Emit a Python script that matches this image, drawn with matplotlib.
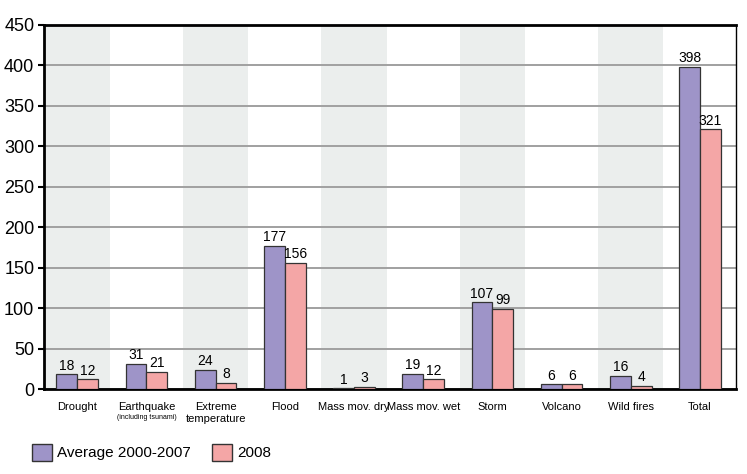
import matplotlib
matplotlib.use("Agg")
import matplotlib.pyplot as plt
from matplotlib.patches import Patch
from matplotlib.transforms import offset_copy
import numpy as np

categories = ["Drought", "Earthquake", "Extreme\ntemperature", "Flood", "Mass mov. dry",
              "Mass mov. wet", "Storm", "Volcano", "Wild fires", "Total"]
avg_2000_2007 = [18, 31, 24, 177, 1, 19, 107, 6, 16, 398]
y2008 = [12, 21, 8, 156, 3, 12, 99, 6, 4, 321]
yticks = [0, 50, 100, 150, 200, 250, 300, 350, 400, 450]

plt.rcParams['font.family'] = ['Liberation Sans Narrow', 'Liberation Sans', 'DejaVu Sans']

c_avg = "#9e94c8"
c_08 = "#f4a6a6"

fig = plt.figure(figsize=(7.47, 4.74), dpi=100)
ax = fig.add_axes([0.0589, 0.1793, 0.9264, 0.768])

x = np.arange(len(categories))
w = 0.30

for i in x:
    if i % 2 == 0 and i < 9:
        ax.axvspan(i - 0.47, i + 0.47, color="#ebeeed", zorder=0, lw=0)

ax.set_ylim(0, 450)
ax.set_xlim(-0.48, 9.52)
ax.set_yticks(yticks)
ax.yaxis.grid(True, color="#a0a0a0", lw=1.4, zorder=1)
ax.set_axisbelow(True)

ax.bar(x - w / 2, avg_2000_2007, w, color=c_avg, edgecolor="#333333", lw=0.9, zorder=3)
ax.bar(x + w / 2, y2008, w, color=c_08, edgecolor="#333333", lw=0.9, zorder=3)

for xi, v in zip(x - w / 2, avg_2000_2007):
    ax.text(xi, v + 2, str(v), ha="center", va="bottom", fontsize=10, zorder=4)
for xi, v in zip(x + w / 2, y2008):
    ax.text(xi, v + 2, str(v), ha="center", va="bottom", fontsize=10, zorder=4)

ax.set_xticks(x)
ax.set_xticklabels(categories, fontsize=8, linespacing=1.25)
ax.tick_params(axis="x", length=0, pad=9)
ax.tick_params(axis="y", labelsize=13, length=4, width=1.5, pad=3)

trans = offset_copy(ax.get_xaxis_transform(), fig=fig, x=0, y=-25, units="dots")
ax.text(1, 0, "(including tsunami)", transform=trans, ha="center", va="top", fontsize=5)

for s in ["left", "bottom", "top"]:
    ax.spines[s].set_linewidth(2)
    ax.spines[s].set_color("black")
ax.spines["right"].set_linewidth(1)
ax.spines["right"].set_color("black")

handles = [Patch(facecolor=c_avg, edgecolor="#333333", label="Average 2000-2007"),
           Patch(facecolor=c_08, edgecolor="#333333", label="2008")]
fig.legend(handles=handles, loc="lower left", bbox_to_anchor=(0.043, 0.027), ncol=2,
           frameon=False, fontsize=11, handlelength=1.3, handleheight=1.4,
           columnspacing=1.4, handletextpad=0.35, borderpad=0, borderaxespad=0)

fig.savefig("out.png", dpi=100)
